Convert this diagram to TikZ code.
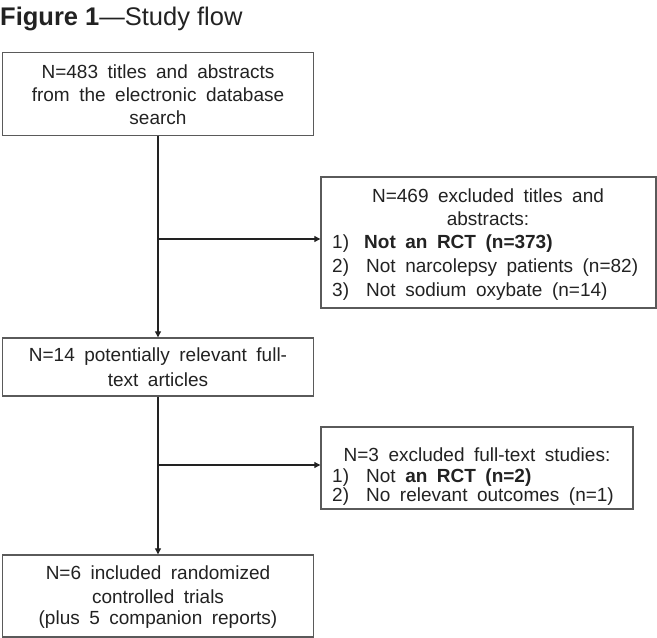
\documentclass[tikz,border=0pt]{standalone}
\usepackage{fontspec}
\setmainfont{Liberation Sans}
\usetikzlibrary{arrows.meta}
\definecolor{ink}{HTML}{222222}
\definecolor{edge}{HTML}{5A5A5A}
\newcommand{\bodyfont}{\fontsize{19}{23}\selectfont\spaceskip=9.5pt plus 1pt minus 1pt\relax}
\tikzset{
  flowbox/.style={draw=edge, line width=1.4pt, fill=white, inner sep=0pt},
  txt/.style={text=ink, font=\bodyfont, inner sep=0pt, align=center},
  conn/.style={draw=ink, line width=1.1pt, -{Triangle[length=6pt,width=6pt]}},
}
\begin{document}
\begin{tikzpicture}[x=1pt,y=-1pt]
\useasboundingbox (0,0) rectangle (657,638);
% title
\node[anchor=base west, inner sep=0pt, text=ink, font=\fontsize{25.5}{30}\selectfont] (title) at (0,25) {\textbf{Figure 1}—Study flow};
% boxes
\node[flowbox, minimum width=311pt, minimum height=83pt] (b1) at (158,94) {};
\node[flowbox, minimum width=311pt, minimum height=58pt] (b2) at (158,367) {};
\node[flowbox, minimum width=311pt, minimum height=82pt] (b3) at (158,596) {};
\node[flowbox, minimum width=335pt, minimum height=131pt] (r1) at (488.5,242.5) {};
\node[flowbox, minimum width=312pt, minimum height=82pt] (r2) at (477,468) {};
% texts
\node[txt] (t1a) at (158,72) {N=483 titles and abstracts};
\node[txt] (t1b) at (158,95) {from the electronic database};
\node[txt] (t1c) at (158,118) {search};
\node[txt] (t2a) at (158,357) {N=14 potentially relevant full-};
\node[txt] (t2b) at (158,380) {text articles};
\node[txt] (t3a) at (158,573) {N=6 included randomized};
\node[txt] (t3b) at (158,597) {controlled trials};
\node[txt] (t3c) at (158,620) {(plus 5 companion reports)};
\node[txt] (r1a) at (488,196) {N=469 excluded titles and};
\node[txt] (r1b) at (488,219) {abstracts:};
\node[txt, anchor=west] (r1n1) at (332,244) {1)};
\node[txt, anchor=west] (r1i1) at (364,244) {\textbf{Not an RCT (n=373)}};
\node[txt, anchor=west] (r1n2) at (332,268) {2)};
\node[txt, anchor=west] (r1i2) at (366,268) {Not narcolepsy patients (n=82)};
\node[txt, anchor=west] (r1n3) at (332,292) {3)};
\node[txt, anchor=west] (r1i3) at (366,292) {Not sodium oxybate (n=14)};
\node[txt] (r2a) at (477,455) {N=3 excluded full-text studies:};
\node[txt, anchor=west] (r2n1) at (332,478) {1)};
\node[txt, anchor=west] (r2i1) at (366,478) {Not \textbf{an RCT (n=2)}};
\node[txt, anchor=west] (r2n2) at (332,497) {2)};
\node[txt, anchor=west] (r2i2) at (366,497) {No relevant outcomes (n=1)};
% connectors
\coordinate (j1) at (158,239);
\coordinate (j2) at (158,465);
\draw[conn] (b1.south) -- (b2.north);
\draw[conn] (b2.south) -- (b3.north);
\draw[conn] (j1) -- (r1.west |- j1);
\draw[conn] (j2) -- (r2.west |- j2);
\end{tikzpicture}
\end{document}
